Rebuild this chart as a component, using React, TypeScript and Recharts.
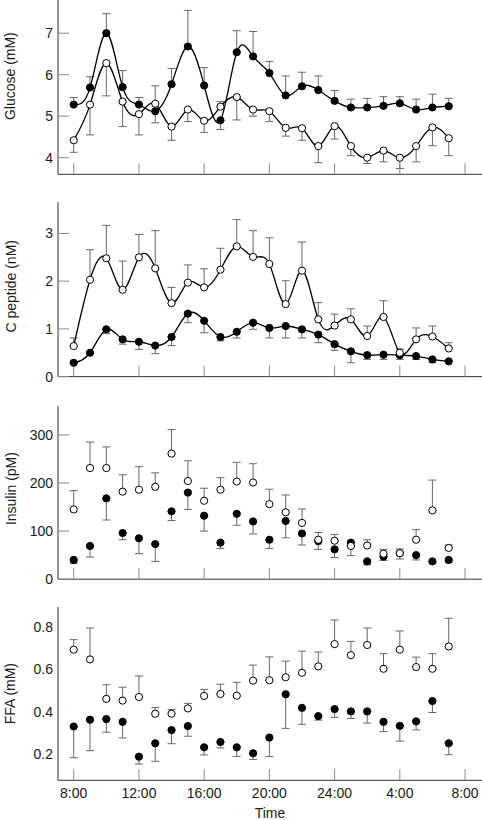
import React from 'react';
import { ComposedChart, Line, XAxis, YAxis, ErrorBar } from 'recharts';

// hours after 8:00
const hours = [0, 1, 2, 3, 4, 5, 6, 7, 8, 9, 10, 11, 12, 13, 14, 15, 16, 17, 18, 19, 20, 21, 22, 23];
const timeTicks = [0, 4, 8, 12, 16, 20, 24];
const timeLabels = ['8:00', '12:00', '16:00', '20:00', '24:00', '4:00', '8:00'];

// Glucose (mM)
const glucoseClosed = [5.28, 5.69, 7.0, 5.7, 5.28, 5.12, 5.77, 6.68, 5.74, 4.9, 6.54, 6.44, 6.04, 5.5, 5.72, 5.63, 5.37, 5.21, 5.21, 5.25, 5.31, 5.16, 5.21, 5.24];
const glucoseClosedErrEnd = [5.45, 5.95, 7.47, 6.1, 5.45, 4.84, 6.15, 7.55, 6.17, 4.68, 7.06, 7.04, 6.32, 5.97, 6.06, 5.97, 5.62, 5.41, 5.43, 5.47, 5.47, 5.41, 5.53, 5.43];
const glucoseOpen = [4.42, 5.28, 6.28, 5.35, 5.05, 5.3, 4.75, 5.16, 4.89, 5.23, 5.46, 5.16, 5.12, 4.72, 4.71, 4.28, 4.76, 4.28, 4.0, 4.17, 4.0, 4.28, 4.73, 4.47];
const glucoseOpenErrEnd = [4.13, 4.55, 5.49, 4.75, 4.55, 5.73, 4.42, 4.87, 4.61, 5.35, 4.91, 5.0, 4.87, 4.52, 4.42, 3.88, 4.45, 4.05, 3.86, 3.9, 3.74, 3.9, 4.29, 4.05];
const glucoseTicks = [4, 5, 6, 7];

// C peptide (nM)
const cpepClosed = [0.29, 0.5, 0.99, 0.78, 0.73, 0.65, 0.83, 1.32, 1.17, 0.83, 0.94, 1.13, 1.02, 1.06, 0.99, 0.88, 0.68, 0.53, 0.45, 0.46, 0.45, 0.43, 0.36, 0.32];
const cpepClosedErrEnd = [0.29, 0.5, 0.9, 0.68, 0.57, 0.48, 0.65, 1.13, 0.92, 0.75, 0.81, 0.99, 0.81, 0.81, 0.81, 0.71, 0.55, 0.29, 0.36, 0.36, 0.36, 0.36, 0.29, 0.32];
const cpepOpen = [0.64, 2.03, 2.48, 1.82, 2.5, 2.27, 1.54, 1.97, 1.87, 2.24, 2.73, 2.51, 2.36, 1.52, 2.22, 1.2, 1.07, 1.2, 0.85, 1.25, 0.5, 0.78, 0.84, 0.59];
const cpepOpenErrEnd = [0.81, 2.66, 3.17, 2.42, 2.98, 3.06, 1.87, 2.34, 2.26, 2.69, 3.29, 3.06, 2.91, 2.01, 2.82, 1.55, 1.31, 1.42, 1.06, 1.59, 0.58, 1.02, 1.06, 0.71];
const cpepTicks = [0, 1, 2, 3];

// Insulin (pM)
const insulinClosed = [40, 69, 168, 96, 85, 73, 141, 180, 132, 76, 136, 120, 82, 121, 95, 79, 62, 76, 37, 47, 54, 50, 37, 40];
const insulinClosedErrEnd = [33, 46, 123, 82, 53, 37, 122, 145, 100, 64, 112, 94, 64, 86, 71, 62, 45, 49, 30, 39, 42, 40, 34, 35];
const insulinOpen = [145, 231, 231, 182, 186, 192, 261, 204, 163, 186, 203, 201, 156, 139, 117, 82, 80, 69, 70, 53, 54, 82, 143, 65];
const insulinOpenErrEnd = [184, 285, 275, 217, 234, 221, 311, 246, 189, 211, 243, 240, 187, 175, 146, 97, 93, 69, 82, 62, 63, 103, 206, 71];
const insulinTicks = [0, 100, 200, 300];

// FFA (mM)
const ffaClosed = [0.331, 0.363, 0.366, 0.353, 0.189, 0.252, 0.314, 0.333, 0.233, 0.258, 0.233, 0.205, 0.279, 0.483, 0.419, 0.38, 0.413, 0.402, 0.402, 0.353, 0.334, 0.355, 0.451, 0.252];
const ffaClosedErrEnd = [0.184, 0.217, 0.304, 0.277, 0.154, 0.167, 0.25, 0.285, 0.197, 0.23, 0.19, 0.176, 0.189, 0.322, 0.341, 0.361, 0.374, 0.369, 0.347, 0.307, 0.262, 0.315, 0.397, 0.198];
const ffaOpen = [0.693, 0.647, 0.461, 0.453, 0.47, 0.391, 0.391, 0.416, 0.475, 0.484, 0.476, 0.547, 0.549, 0.563, 0.584, 0.614, 0.719, 0.667, 0.715, 0.603, 0.693, 0.611, 0.603, 0.708];
const ffaOpenErrEnd = [0.74, 0.795, 0.528, 0.516, 0.569, 0.42, 0.411, 0.44, 0.506, 0.53, 0.539, 0.62, 0.659, 0.639, 0.686, 0.682, 0.833, 0.732, 0.795, 0.674, 0.781, 0.658, 0.674, 0.841];
const ffaTicks = [0.2, 0.4, 0.6, 0.8];
const ffaTickMarks = [0.8, 0.51, 0.32, 0.16];

const W = 482;
const MT = 5;
const X_DOMAIN: [number, number] = [-0.963, 25.04];
const AXIS_COLOR = '#333';
const TICK_COLOR = '#8a8a8a';
const ERR_COLOR = '#666';
const TEXT_COLOR = '#1a1a1a';

const errPair = (v: number, e: number) => (e >= v ? [0, e - v] : [v - e, 0]);

const buildData = (closed: number[], closedErr: number[], open: number[], openErr: number[]) =>
  hours.map((h, i) => ({
    h,
    c: closed[i],
    cErr: errPair(closed[i], closedErr[i]),
    o: open[i],
    oErr: errPair(open[i], openErr[i]),
  }));

const titleRenderer = (title: string, dy: number) => (props: any) => {
  const vb = props.viewBox || {};
  const cx = 10.5;
  const cy = (vb.y ?? 0) + (vb.height ?? 0) / 2 + dy;
  return (
    <text
      x={cx}
      y={cy}
      transform={`rotate(-90 ${cx} ${cy})`}
      textAnchor="middle"
      dominantBaseline="central"
      fontSize={14}
      fill={TEXT_COLOR}
    >
      {title}
    </text>
  );
};

type PanelProps = {
  plotTop: number;
  plotH: number;
  domain: [number, number];
  ticks: number[];
  fmt?: (v: number) => string;
  title: string;
  titleDy: number;
  closed: number[];
  closedErr: number[];
  open: number[];
  openErr: number[];
  curve: boolean;
  bottom?: boolean;
  tickMarks?: number[];
};

const Panel = (p: PanelProps) => {
  const data = buildData(p.closed, p.closedErr, p.open, p.openErr);
  const xH = p.bottom ? 40 : 14;
  const H = MT + p.plotH + xH;
  const lineStroke = p.curve ? '#000' : 'none';
  return (
    <div style={{ position: 'absolute', left: 0, top: p.plotTop - MT, width: W, height: H }}>
      <ComposedChart width={W} height={H} data={data} margin={{ top: MT, right: 0, bottom: 0, left: 0 }}>
        <XAxis
          dataKey="h"
          type="number"
          domain={X_DOMAIN}
          allowDataOverflow
          ticks={timeTicks}
          interval={0}
          height={xH}
          tickSize={-11}
          tickMargin={19}
          axisLine={{ stroke: AXIS_COLOR }}
          tickLine={{ stroke: TICK_COLOR }}
          tick={{ fontSize: 14, fill: TEXT_COLOR }}
          tickFormatter={(v: number) => (p.bottom ? timeLabels[timeTicks.indexOf(v)] : '')}
          label={p.bottom ? { value: 'Time', position: 'insideBottom', offset: 2.5, fontSize: 14, fill: TEXT_COLOR } : undefined}
        />
        {p.tickMarks ? (
          <YAxis
            yAxisId="marks"
            type="number"
            domain={p.domain}
            allowDataOverflow
            ticks={p.tickMarks}
            interval={0}
            width={0}
            axisLine={false}
            tickSize={-11}
            tickLine={{ stroke: TICK_COLOR }}
            tickFormatter={() => ''}
          />
        ) : null}
        <YAxis
          type="number"
          domain={p.domain}
          allowDataOverflow
          ticks={p.ticks}
          interval={0}
          width={58}
          tickSize={-11}
          tickMargin={16}
          axisLine={{ stroke: AXIS_COLOR }}
          tickLine={p.tickMarks ? false : { stroke: TICK_COLOR }}
          tick={{ fontSize: 14, fill: TEXT_COLOR }}
          tickFormatter={p.fmt}
          label={{ content: titleRenderer(p.title, p.titleDy) }}
        />
        <Line
          dataKey="c"
          type="natural"
          stroke={lineStroke}
          strokeWidth={1.3}
          dot={{ r: 3.6, fill: '#000', stroke: '#000', strokeWidth: 1 }}
          activeDot={false}
          isAnimationActive={false}
        >
          <ErrorBar dataKey="cErr" direction="y" width={4} stroke={ERR_COLOR} strokeWidth={1} />
        </Line>
        <Line
          dataKey="o"
          type="natural"
          stroke={lineStroke}
          strokeWidth={1.3}
          dot={{ r: 3.6, fill: '#fff', stroke: '#000', strokeWidth: 1 }}
          activeDot={false}
          isAnimationActive={false}
        >
          <ErrorBar dataKey="oErr" direction="y" width={4} stroke={ERR_COLOR} strokeWidth={1} />
        </Line>
      </ComposedChart>
    </div>
  );
};

export default function App() {
  return (
    <div
      style={{
        position: 'absolute',
        left: 0,
        top: 0,
        width: W,
        height: 820,
        background: '#fff',
        fontFamily: "'Liberation Sans', Arial, sans-serif",
        overflow: 'hidden',
      }}
    >
      <Panel
        plotTop={0}
        plotH={174.3}
        domain={[3.6, 7.8]}
        ticks={glucoseTicks}
        title="Glucose (mM)"
        titleDy={-11}
        closed={glucoseClosed}
        closedErr={glucoseClosedErrEnd}
        open={glucoseOpen}
        openErr={glucoseOpenErrEnd}
        curve
      />
      <Panel
        plotTop={201.7}
        plotH={174.6}
        domain={[0, 3.66]}
        ticks={cpepTicks}
        title="C peptide (nM)"
        titleDy={-3}
        closed={cpepClosed}
        closedErr={cpepClosedErrEnd}
        open={cpepOpen}
        openErr={cpepOpenErrEnd}
        curve
      />
      <Panel
        plotTop={405.5}
        plotH={173.2}
        domain={[0, 360]}
        ticks={insulinTicks}
        title="Insulin (pM)"
        titleDy={-4}
        closed={insulinClosed}
        closedErr={insulinClosedErrEnd}
        open={insulinOpen}
        openErr={insulinOpenErrEnd}
        curve={false}
      />
      <Panel
        plotTop={606.7}
        plotH={173.3}
        domain={[0.0775, 0.894]}
        ticks={ffaTicks}
        fmt={(v: number) => v.toFixed(1)}
        title="FFA (mM)"
        titleDy={0}
        closed={ffaClosed}
        closedErr={ffaClosedErrEnd}
        open={ffaOpen}
        openErr={ffaOpenErrEnd}
        curve={false}
        bottom
        tickMarks={ffaTickMarks}
      />
    </div>
  );
}
